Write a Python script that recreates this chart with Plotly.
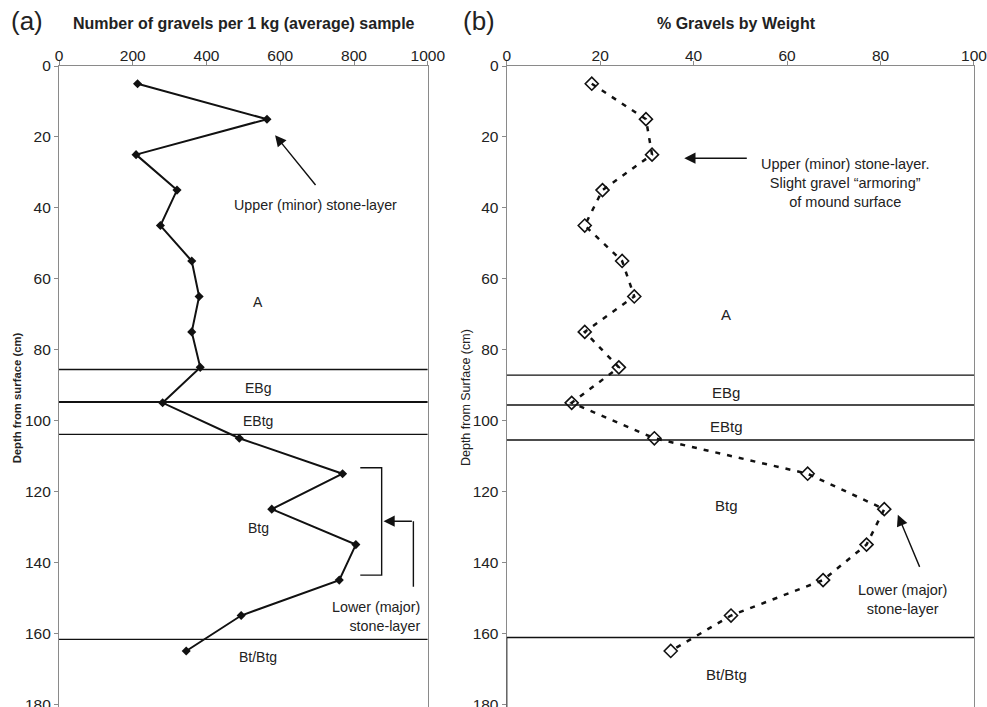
import plotly.graph_objects as go

# ---- data ----
depth = [5, 15, 25, 35, 45, 55, 65, 75, 85, 95, 105, 115, 125, 135, 145, 155, 165]
gravel_count = [213, 564, 209, 320, 275, 360, 380, 360, 383, 281, 489, 769, 577, 805, 760, 494, 345]
gravel_pct = [18.2, 29.8, 31.1, 20.5, 16.7, 24.7, 27.3, 16.7, 24.0, 13.9, 31.6, 64.4, 80.8, 77.0, 67.7, 48.0, 35.1]

horizons_a = [85.6, 94.8, 103.9, 161.7]
horizons_b = [87.2, 95.6, 105.5, 161.2]
horizon_labels = ["A", "EBg", "EBtg", "Btg", "Bt/Btg"]
horizon_label_depth_a = [66.6, 90.8, 100.1, 130.3, 166.7]
horizon_label_depth_b = [70.2, 92.1, 101.7, 123.9, 171.6]

x_ticks_a = [0, 200, 400, 600, 800, 1000]
x_ticks_b = [0, 20, 40, 60, 80, 100]
y_ticks = [0, 20, 40, 60, 80, 100, 120, 140, 160, 180]

FONT = "Liberation Sans, Arial, sans-serif"
GRAY = "#8a8a8a"
TXT = "#222222"

W, H = 987, 707
ML, MR, MT, MB = 58.7, 12.7, 66, 0
PW, PH = W - ML - MR, H - MT - MB
YMAX = 180.8


def px(xp):
    return (xp - ML) / PW


def py(yp):
    return 1 - (yp - MT) / PH


fig = go.Figure()

fig.add_trace(go.Scatter(
    x=gravel_count, y=depth, mode="lines+markers",
    line=dict(color="#111111", width=2),
    marker=dict(symbol="diamond", size=7, color="#111111"),
    xaxis="x", yaxis="y", showlegend=False))

fig.add_trace(go.Scatter(
    x=gravel_pct, y=depth, mode="lines+markers",
    line=dict(color="#111111", width=2.5, dash="5px,7px"),
    marker=dict(symbol="diamond-open", size=10, color="#111111", line=dict(width=1.6)),
    xaxis="x2", yaxis="y2", showlegend=False))

axis_common = dict(showline=True, linecolor=GRAY, linewidth=1.2, mirror=True,
                   ticks="outside", ticklen=4, tickcolor=GRAY, showgrid=False,
                   zeroline=False, automargin=False, ticklabeloverflow="allow",
                   tickfont=dict(family=FONT, size=15.5, color=TXT))

fig.update_layout(
    width=W, height=H,
    margin=dict(l=ML, r=MR, t=MT, b=MB, pad=0),
    paper_bgcolor="white", plot_bgcolor="white",
    xaxis=dict(domain=[0, px(427.7)], range=[0, 1000], side="top", anchor="y",
               tickvals=x_ticks_a, ticklabelstandoff=-6, **axis_common),
    yaxis=dict(domain=[0, 1], range=[YMAX, 0], anchor="x",
               tickvals=y_ticks, **axis_common),
    xaxis2=dict(domain=[px(506.7), 1], range=[0, 100], side="top", anchor="y2",
                tickvals=x_ticks_b, ticklabelstandoff=-6, **axis_common),
    yaxis2=dict(domain=[0, 1], range=[YMAX, 0], anchor="x2",
                tickvals=y_ticks, **axis_common),
)

shapes = []
for i, d in enumerate(horizons_a):
    shapes.append(dict(type="line", xref="x", yref="y", x0=0, x1=1000, y0=d, y1=d,
                       line=dict(color="#111111", width=2 if i == 1 else 1.3)))
for d in horizons_b:
    shapes.append(dict(type="line", xref="x2", yref="y2", x0=0, x1=100, y0=d, y1=d,
                       line=dict(color="#111111", width=1.4)))
# black left border below lowest horizon in panel b
shapes.append(dict(type="line", xref="x2", yref="y2", x0=0, x1=0, y0=horizons_b[3], y1=YMAX,
                   line=dict(color="#111111", width=1.3)))
# bracket in panel a
shapes.append(dict(type="path", xref="x", yref="y",
                   path="M 817,113.3 L 875,113.3 L 875,143.6 L 817,143.6",
                   line=dict(color="#111111", width=1.4)))
shapes.append(dict(type="line", xref="x", yref="y", x0=961, x1=961, y0=146.9, y1=128.4,
                   line=dict(color="#111111", width=1.4)))
fig.update_layout(shapes=shapes)

ann = []
fa = dict(family=FONT, size=14.3, color=TXT)
fb = dict(family=FONT, size=14.5, color=TXT)
C = dict(xanchor="center", yanchor="middle", showarrow=False)
for lab, d in zip(horizon_labels, horizon_label_depth_a):
    ann.append(dict(x=540, y=d, xref="x", yref="y", text=lab,
                    font=dict(family=FONT, size=14, color=TXT), **C))
for lab, d in zip(horizon_labels, horizon_label_depth_b):
    ann.append(dict(x=47, y=d, xref="x2", yref="y2", text=lab,
                    font=dict(family=FONT, size=15, color=TXT), **C))

arrow = dict(text="", showarrow=True, arrowhead=2, arrowsize=1.6, arrowwidth=1.4,
             arrowcolor="#111111")
# panel a arrows/text
ann.append(dict(x=586, y=19.5, ax=699, ay=34.0, xref="x", yref="y", axref="x", ayref="y", **arrow))
ann.append(dict(x=695, y=39.2, xref="x", yref="y", text="Upper (minor) stone-layer",
                font=fa, **C))
ann.append(dict(x=880, y=128.4, ax=961, ay=128.4, xref="x", yref="y", axref="x", ayref="y", **arrow))
ann.append(dict(x=984, y=155.4, xref="x", yref="y", text="Lower (major)<br>stone-layer",
                showarrow=False, font=fa, xanchor="right", yanchor="middle", align="right"))

# panel b arrows/text
ann.append(dict(x=38.0, y=26.0, ax=51.7, ay=26.0, xref="x2", yref="y2", axref="x2", ayref="y2", **arrow))
ann.append(dict(x=72.3, y=32.9, xref="x2", yref="y2",
                text="Upper (minor) stone-layer.<br>Slight gravel \u201carmoring\u201d<br>of mound surface",
                font=fb, align="center", **C))
ann.append(dict(x=83.7, y=126.6, ax=88.5, ay=141.7, xref="x2", yref="y2", axref="x2", ayref="y2", **arrow))
ann.append(dict(x=84.8, y=150.4, xref="x2", yref="y2", text="Lower (major)<br>stone-layer",
                font=fb, align="center", **C))

# titles
ann.append(dict(x=px(244), y=py(24), xref="paper", yref="paper",
                text="<b>Number of gravels per 1 kg (average) sample</b>",
                font=dict(family=FONT, size=16, color=TXT), **C))
ann.append(dict(x=px(737), y=py(24), xref="paper", yref="paper",
                text="<b>% Gravels by Weight</b>",
                font=dict(family=FONT, size=16, color=TXT), **C))
ann.append(dict(x=px(27), y=py(21), xref="paper", yref="paper", text="(a)",
                font=dict(family=FONT, size=26, color=TXT), **C))
ann.append(dict(x=px(479), y=py(21), xref="paper", yref="paper", text="(b)",
                font=dict(family=FONT, size=26, color=TXT), **C))
ann.append(dict(x=px(17), y=py(398), xref="paper", yref="paper",
                text="<b>Depth from surface (cm)</b>", textangle=-90,
                font=dict(family=FONT, size=11.3, color=TXT), **C))
ann.append(dict(x=px(466), y=py(398), xref="paper", yref="paper",
                text="Depth from Surface (cm)", textangle=-90,
                font=dict(family=FONT, size=12.5, color=TXT), **C))
fig.update_layout(annotations=ann)

fig.write_html("out.html")
